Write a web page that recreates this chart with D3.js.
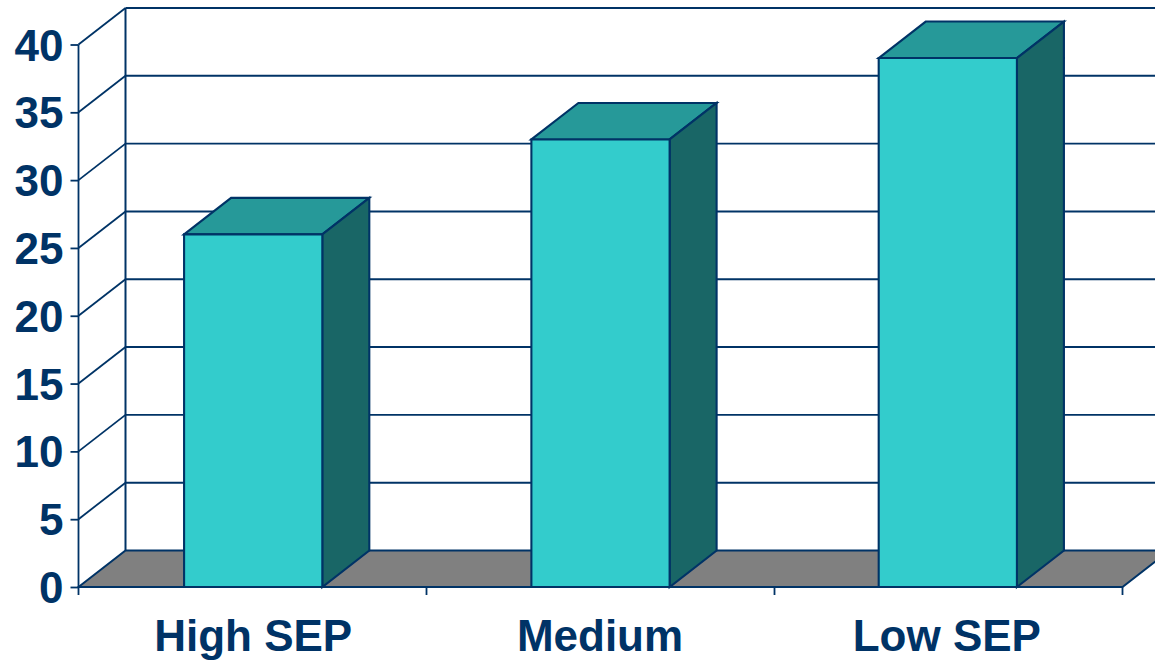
<!DOCTYPE html>
<html><head><meta charset="utf-8">
<script src="https://cdn.jsdelivr.net/npm/d3@7"></script>
<style>html,body{margin:0;padding:0;background:#fff;overflow:hidden}svg{display:block}</style>
</head><body><div id="c"></div>
<script>
const categories = ["High SEP", "Medium", "Low SEP"];
const values = [26, 33, 39];
const yTicks = [0, 5, 10, 15, 20, 25, 30, 35, 40];

const W = 1155, H = 660;
const NAVY = "#003366", FRONT = "#33CCCC", TOP = "#269999", SIDE = "#196666", FLOOR = "#808080";
const depthX = 47, depthY = -36.5;
const svg = d3.select("#c").append("svg").attr("width", W).attr("height", H);
const y = d3.scaleLinear().domain([0, 40]).range([587, 44.5]);
const x = d3.scaleBand().domain(categories).range([78.5, 1122.5]).paddingInner(0.602).paddingOuter(0.304);
const x0 = x.range()[0], x1 = x.range()[1];
const xEdge = d3.scaleLinear().domain([0, categories.length]).range([x0, x1]);
const path = pts => "M" + pts.map(p => p.join(",")).join("L") + "Z";

svg.append("g").selectAll("line").data(yTicks.slice(1)).join("line")
  .attr("x1", x0 + depthX).attr("x2", W + 20)
  .attr("y1", d => y(d) + depthY).attr("y2", d => y(d) + depthY)
  .attr("stroke", NAVY).attr("stroke-width", d => d === 40 ? 2.2 : 1.9);
svg.append("g").selectAll("line").data(yTicks.slice(1)).join("line")
  .attr("x1", x0).attr("x2", x0 + depthX)
  .attr("y1", d => y(d)).attr("y2", d => y(d) + depthY)
  .attr("stroke", NAVY).attr("stroke-width", 1.8);

svg.append("path")
  .attr("d", path([[x0, y(0)], [x0 + depthX, y(0) + depthY], [x1 + depthX, y(0) + depthY], [x1, y(0)]]))
  .attr("fill", FLOOR).attr("stroke", NAVY).attr("stroke-width", 2);

svg.append("line").attr("x1", x0 + depthX).attr("x2", x0 + depthX)
  .attr("y1", y(40) + depthY).attr("y2", y(0) + depthY).attr("stroke", NAVY).attr("stroke-width", 2);

const yAxis = d3.axisLeft(y).tickValues(yTicks).tickSize(8).tickPadding(8).tickFormat(d3.format("d"));
const gy = svg.append("g").attr("transform", `translate(${x0},0)`).call(yAxis);
gy.select(".domain").attr("stroke", NAVY).attr("stroke-width", 1.8).attr("d", `M0,${y(40)}V${y(0) + 8}`);
gy.selectAll(".tick line").attr("stroke", NAVY).attr("stroke-width", 1.8);
gy.selectAll(".tick text").attr("fill", NAVY).attr("dy", null).attr("y", 15.5)
  .style("font", "bold 44px 'Liberation Sans', Arial, sans-serif").attr("x", -15);

svg.append("g").selectAll("line").data(d3.range(1, categories.length + 1)).join("line")
  .attr("x1", i => xEdge(i)).attr("x2", i => xEdge(i))
  .attr("y1", y(0)).attr("y2", y(0) + 8).attr("stroke", NAVY).attr("stroke-width", 1.8);

const bars = svg.append("g").selectAll("g").data(categories).join("g");
const st = { stroke: NAVY, "stroke-width": 2.1, "stroke-linejoin": "miter" };
function face(cls, fill, pts) {
  const p = bars.append("path").attr("class", cls).attr("fill", fill).attr("d", pts);
  Object.entries(st).forEach(([k, v]) => p.attr(k, v));
}
const val = i => values[i];
face("top", TOP, (d, i) => { const l = x(d), r = l + x.bandwidth(), t = y(val(i));
  return path([[l, t], [l + depthX, t + depthY], [r + depthX, t + depthY], [r, t]]); });
face("side", SIDE, (d, i) => { const r = x(d) + x.bandwidth(), t = y(val(i));
  return path([[r, t], [r + depthX, t + depthY], [r + depthX, y(0) + depthY], [r, y(0)]]); });
face("front", FRONT, (d, i) => { const l = x(d), r = l + x.bandwidth(), t = y(val(i));
  return path([[l, t], [r, t], [r, y(0)], [l, y(0)]]); });

svg.append("g").selectAll("text").data(categories).join("text")
  .attr("x", (d, i) => x(d) + x.bandwidth() / 2 + [0, -0.5, -1][i]).attr("y", 651)
  .attr("text-anchor", "middle").attr("fill", NAVY)
  .style("font", "bold 44px 'Liberation Sans', Arial, sans-serif").text(d => d);
</script></body></html>
